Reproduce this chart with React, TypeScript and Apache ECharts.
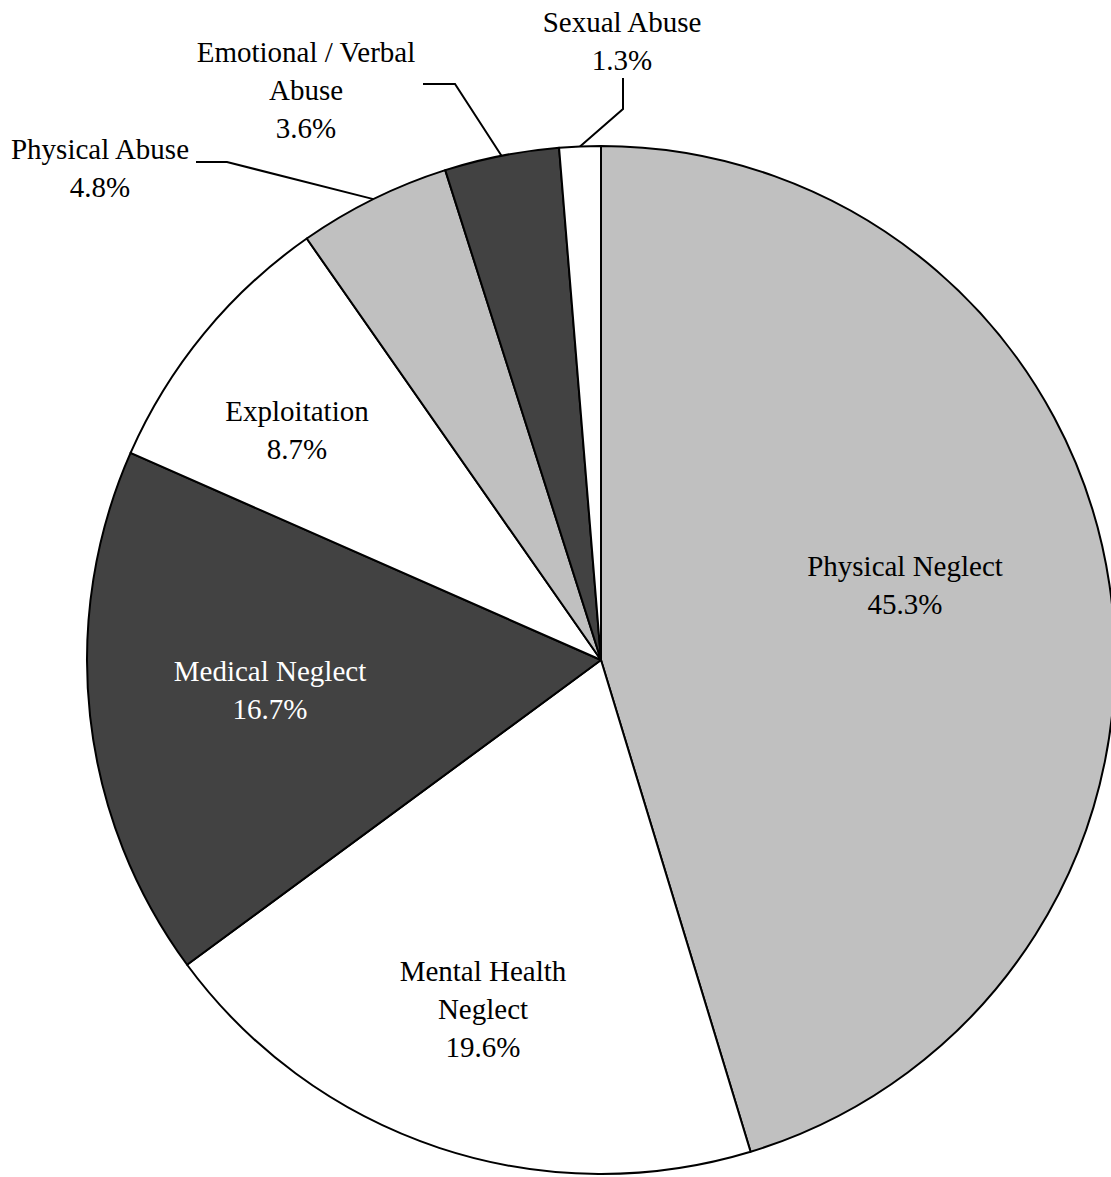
import React, { useEffect, useRef } from 'react';
import * as echarts from 'echarts';

// ---- data ----
const categories = [
  'Physical Neglect',
  'Mental Health\nNeglect',
  'Medical Neglect',
  'Exploitation',
  'Physical Abuse',
  'Emotional / Verbal\nAbuse',
  'Sexual Abuse',
];
const shares = [45.3, 19.6, 16.7, 8.7, 4.8, 3.6, 1.3];
const fills = ['#C0C0C0', '#FFFFFF', '#424242', '#FFFFFF', '#C0C0C0', '#424242', '#FFFFFF'];
const labelColors = ['#000000', '#000000', '#FFFFFF', '#000000', '#000000', '#000000', '#000000'];
const outsideLabel = [false, false, false, false, true, true, true];

// ---- layout (positions of labels, leader-line elbows) ----
const CENTER = [601, 660];
const RADIUS = 514;
const labelPos: number[][] = [
  [905, 585],
  [483, 1009],
  [270, 690],
  [297, 430],
  [100, 168],
  [306, 90],
  [622, 41],
];
const elbows: Record<number, number[][]> = {
  4: [[227, 162], [196, 162]],
  5: [[455, 84], [423, 84]],
  6: [[623, 109], [623, 78]],
};

function midArc(i: number): number[] {
  const total = shares.reduce((a, b) => a + b, 0);
  let before = 0;
  for (let k = 0; k < i; k++) before += shares[k];
  const a = ((before + shares[i] / 2) / total) * Math.PI * 2;
  return [CENTER[0] + RADIUS * Math.sin(a), CENTER[1] - RADIUS * Math.cos(a)];
}

export default function App() {
  const ref = useRef<HTMLDivElement>(null);
  useEffect(() => {
    if (!ref.current) return;
    const chart = echarts.init(ref.current, undefined, { renderer: 'svg' });
    const data = categories.map((name, i) => ({
      name,
      value: shares[i],
      itemStyle: { color: fills[i] },
      label: {
        position: outsideLabel[i] ? 'outside' : 'inside',
        color: labelColors[i],
      },
      labelLine: { show: outsideLabel[i] },
    }));
    chart.setOption({
      animation: false,
      backgroundColor: '#FFFFFF',
      series: [
        {
          type: 'pie',
          center: CENTER,
          radius: [0, RADIUS],
          startAngle: 90,
          clockwise: true,
          avoidLabelOverlap: false,
          emphasis: { disabled: true },
          itemStyle: { borderColor: '#000000', borderWidth: 2 },
          label: {
            show: true,
            fontFamily: '"Liberation Serif", "Times New Roman", serif',
            fontSize: 29,
            lineHeight: 38,
            align: 'center',
            formatter: (p: any) => `${p.name}\n${Number(p.value).toFixed(1)}%`,
          },
          labelLine: {
            length: 20,
            length2: 20,
            lineStyle: { color: '#000000', width: 2 },
          },
          labelLayout: (params: any) => {
            const i = params.dataIndex;
            const res: any = {
              x: labelPos[i][0],
              y: labelPos[i][1],
              align: 'center',
              verticalAlign: 'middle',
            };
            if (elbows[i]) {
              const start =
                params.labelLinePoints && params.labelLinePoints[0]
                  ? params.labelLinePoints[0]
                  : midArc(i);
              res.labelLinePoints = [start, ...elbows[i]];
            }
            return res;
          },
          data,
        },
      ],
    });
    return () => chart.dispose();
  }, []);
  return (
    <div
      ref={ref}
      style={{ position: 'absolute', left: 0, top: 0, width: 1111, height: 1177 }}
    />
  );
}
